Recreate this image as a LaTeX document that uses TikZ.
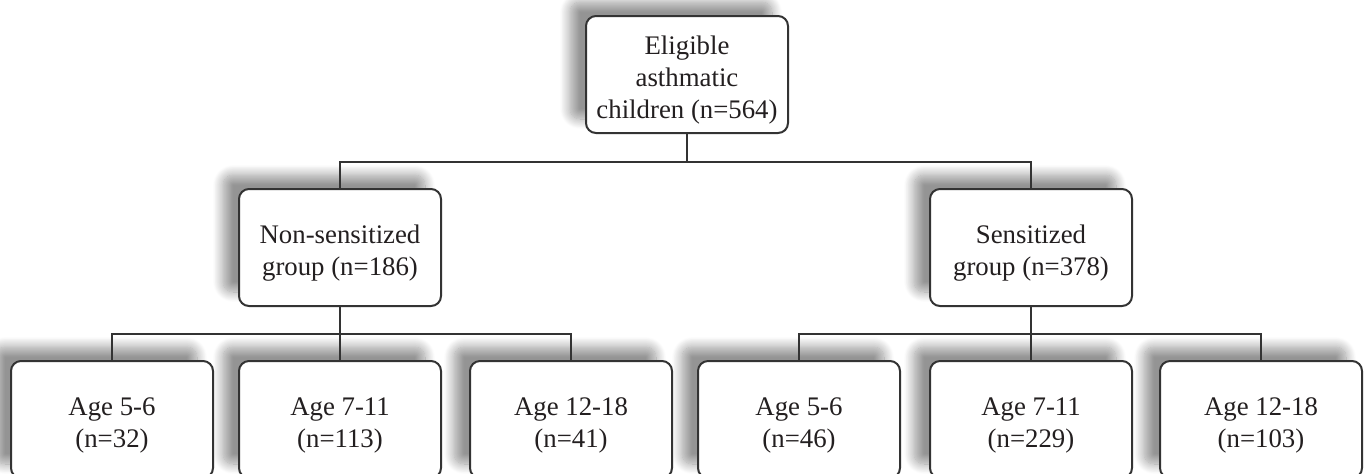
\documentclass[tikz,border=0pt]{standalone}
\usepackage{fontspec}
\setmainfont{Liberation Serif}
\usetikzlibrary{shadows.blur}
\definecolor{ink}{HTML}{333333}
\definecolor{txt}{HTML}{231F20}
\newcommand\bxtext[1]{\raisebox{-3pt}[\height][\depth]{\begin{tabular}{@{}c@{}}#1\end{tabular}}}
\tikzset{
  box/.style={draw=ink, line width=1pt, rounded corners=5pt, fill=white,
    minimum width=101pt, minimum height=58.5pt, inner sep=2pt,
    align=center, text=txt, font=\fontsize{13.4}{16}\selectfont,
    blur shadow={shadow xshift=-8pt, shadow yshift=7pt, shadow blur radius=5pt,
      shadow opacity=42, shadow blur steps=16}},
  link/.style={draw=ink, line width=1pt}
}
\begin{document}
\begin{tikzpicture}[x=0.5pt,y=-0.5pt]
\useasboundingbox (0,0) rectangle (1368,473);
\begin{scope}
\clip (0,0) rectangle (1368,473);
\node[box] (top) at (687,74.5) {\bxtext{Eligible\\asthmatic\\children (n=564)}};
\node[box] (ns) at (340,247.5) {\bxtext{Non-sensitized\\group (n=186)}};
\node[box] (s) at (1031,247.5) {\bxtext{Sensitized\\group (n=378)}};
\node[box] (a1) at (112,419.5) {\bxtext{Age 5-6\\(n=32)}};
\node[box] (a2) at (340,419.5) {\bxtext{Age 7-11\\(n=113)}};
\node[box] (a3) at (571,419.5) {\bxtext{Age 12-18\\(n=41)}};
\node[box] (b1) at (799,419.5) {\bxtext{Age 5-6\\(n=46)}};
\node[box] (b2) at (1031,419.5) {\bxtext{Age 7-11\\(n=229)}};
\node[box] (b3) at (1261,419.5) {\bxtext{Age 12-18\\(n=103)}};
\coordinate (j0) at (687,162);
\coordinate (j1) at (340,334);
\coordinate (j2) at (1031,334);
\draw[link] (top.south) -- (j0);
\draw[link] (ns.north) |- (j0) -| (s.north);
\draw[link] (ns.south) -- (j1);
\draw[link] (a1.north) |- (j1) -| (a3.north);
\draw[link] (a2.north) -- (j1);
\draw[link] (s.south) -- (j2);
\draw[link] (b1.north) |- (j2) -| (b3.north);
\draw[link] (b2.north) -- (j2);
\end{scope}
\end{tikzpicture}
\end{document}
